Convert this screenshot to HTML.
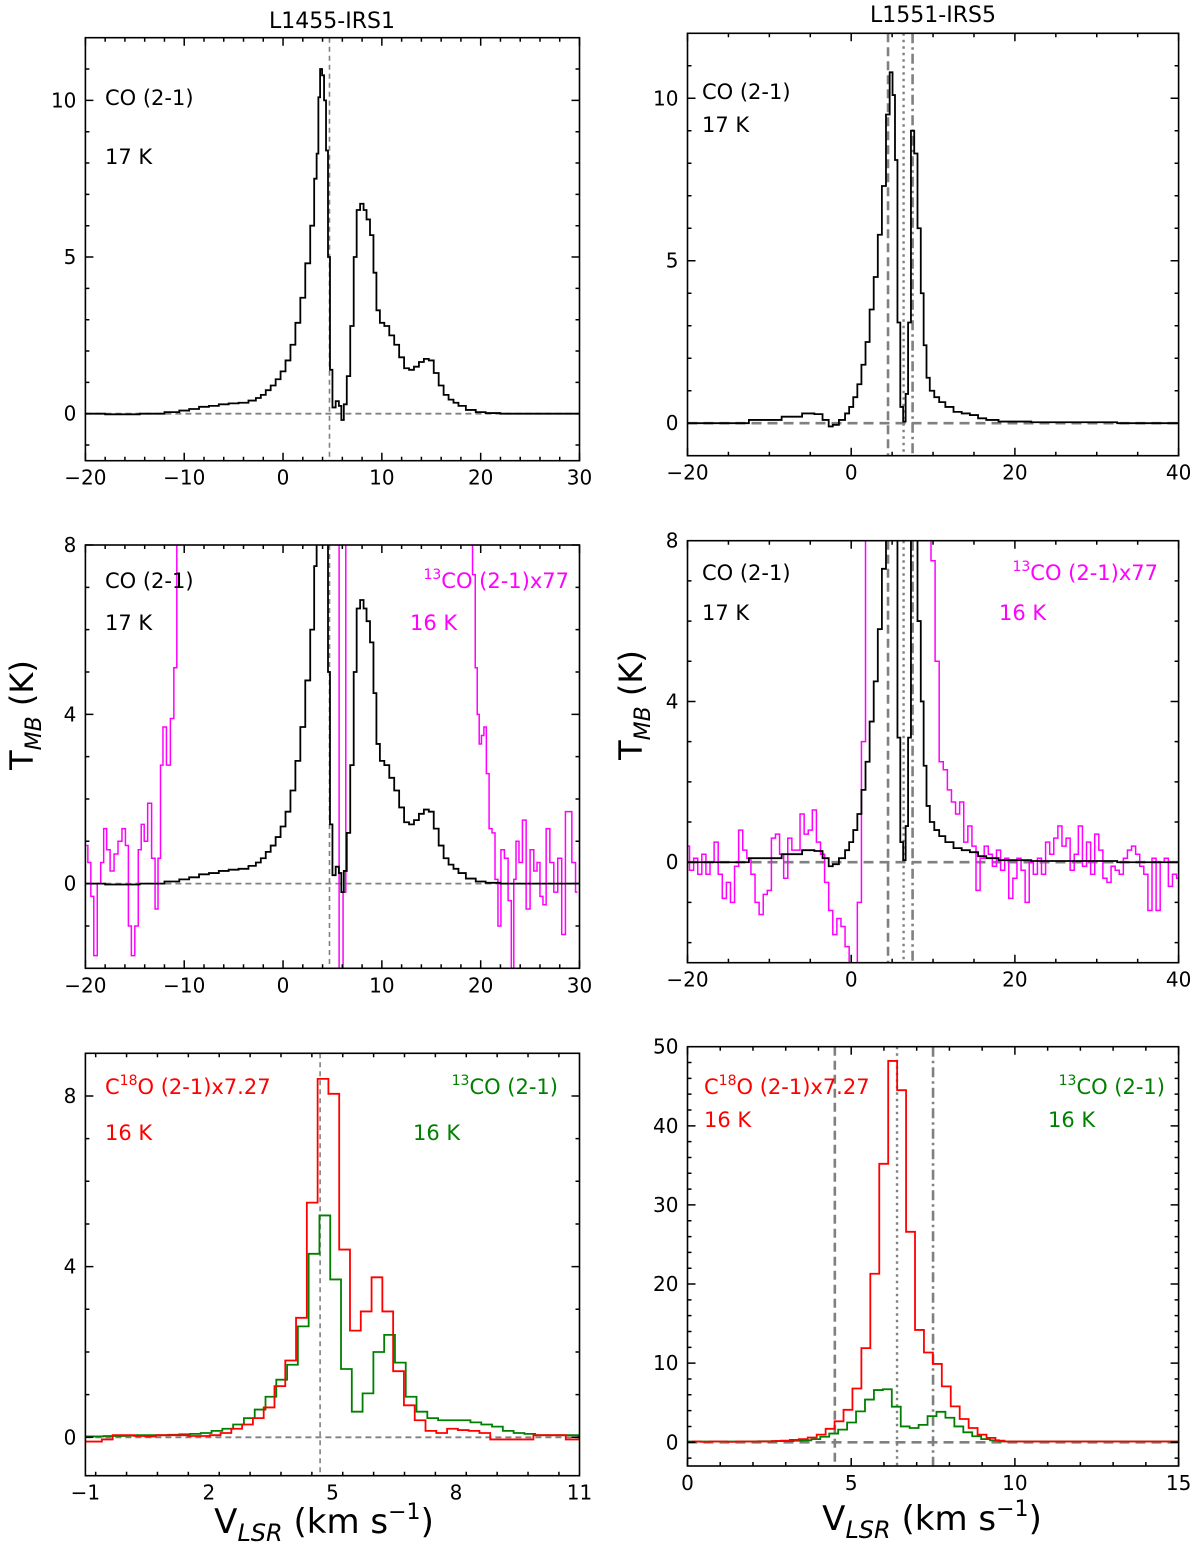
<!DOCTYPE html>
<html><head><meta charset="utf-8">
<style>
html,body{margin:0;padding:0;background:#fff;}
svg{display:block;font-family:"DejaVu Sans","Liberation Sans",sans-serif;}
</style></head>
<body>
<svg id="fig" width="1200" height="1546" viewBox="0 0 1200 1546" xmlns="http://www.w3.org/2000/svg">
<text x="332" y="28" font-size="22" text-anchor="middle">L1455-IRS1</text>
<text x="933" y="22" font-size="22" text-anchor="middle">L1551-IRS5</text>
<text transform="translate(33,715) rotate(-90)" font-size="32" text-anchor="middle">T<tspan font-size="22" font-style="italic" dy="8">MB</tspan><tspan dy="-8"> (K)</tspan></text>
<text transform="translate(642,705) rotate(-90)" font-size="32" text-anchor="middle">T<tspan font-size="22" font-style="italic" dy="8">MB</tspan><tspan dy="-8"> (K)</tspan></text>
<text x="324" y="1533" font-size="34" text-anchor="middle">V<tspan font-size="24" font-style="italic" dy="8">LSR</tspan><tspan dy="-8"> (km s</tspan><tspan font-size="22" dy="-14">−1</tspan><tspan dy="14">)</tspan></text>
<text x="932" y="1530" font-size="34" text-anchor="middle">V<tspan font-size="24" font-style="italic" dy="8">LSR</tspan><tspan dy="-8"> (km s</tspan><tspan font-size="22" dy="-14">−1</tspan><tspan dy="14">)</tspan></text>
</svg>
<script>
// ---------- data ----------
// L1455 CO(2-1)
const l1455CoV = [-20,-16,-13,-11,-10,-9,-8,-7,-6,-5,-4,-3,-2.5,-2,-1.5,-1,-0.5,0,0.5,1,1.5,2,2.5,3,3.3,3.5,3.65,3.85,4.05,4.25,4.45,4.65,4.85,5.15,5.5,5.8,6.0,6.3,6.6,7.0,7.3,7.6,8.0,8.3,8.6,9.0,9.3,9.6,10.0,10.5,11.0,11.5,12.0,12.5,13.0,13.5,14.0,14.5,15.0,15.5,16.0,16.5,17.0,17.5,18,19,20,21,23,26,30];
const l1455CoT = [0,-0.02,0,0.05,0.1,0.15,0.22,0.25,0.3,0.33,0.35,0.42,0.5,0.6,0.75,0.9,1.1,1.35,1.7,2.2,2.9,3.7,4.8,6.0,7.5,8.3,10.1,11.0,10.8,10.0,8.4,5.0,1.4,0.2,0.4,0.25,-0.2,0.3,1.2,2.8,5.0,6.5,6.7,6.5,6.2,5.7,4.5,3.3,2.9,2.8,2.5,2.2,1.8,1.45,1.4,1.5,1.65,1.75,1.7,1.3,0.9,0.6,0.45,0.35,0.25,0.12,0.05,0.02,0,0,0];
// L1455 13CO(2-1)x77
const l1455MagV = [-19.9,-19.6,-19.3,-19.0,-18.6,-18.3,-18.0,-17.7,-17.3,-16.9,-16.5,-16.1,-15.8,-15.5,-15.2,-14.8,-14.5,-14.2,-13.9,-13.5,-13.1,-12.8,-12.5,-12.3,-12.0,-11.6,-11.2,-10.9,-10.6,-10.2,-9.9,-9.4,-8.0,-4.0,0.0,4.0,5.4,5.95,6.2,6.5,8.0,12.0,16.0,19.0,19.35,19.55,19.75,19.95,20.2,20.45,20.7,21.0,21.3,21.6,21.9,22.2,22.6,22.95,23.25,23.45,23.7,24.05,24.4,24.8,25.2,25.55,25.85,26.15,26.45,26.8,27.2,27.6,28.0,28.4,28.75,29.05,29.4,29.8];
const l1455MagT = [0.9,0.5,-0.3,-1.7,0,0.5,1.3,0.8,0.3,0.7,1.0,1.3,0.9,-1.0,-1.7,-1.0,0.8,1.4,1.0,1.9,0.6,-0.6,0.6,2.8,3.7,2.8,3.9,5.1,9,9,9,9,9,9,9,9,9,-3,-0.2,9,9,9,9,9,7.3,5.1,4.0,3.3,3.5,3.7,2.6,1.3,1.2,0.1,-1.0,0.8,0.6,-0.4,-3,0.1,1.0,0.5,1.5,-0.6,0.8,0.3,0.5,-0.3,-0.5,1.3,0.5,-0.2,0.6,-1.2,1.7,1.7,0.5,-0.2];
// L1551 CO(2-1)
const l1551CoV = [-20,-15,-10,-7,-5,-4,-3,-2.5,-2,-1,-0.5,0,0.5,1,1.5,2,2.5,3,3.5,4,4.5,4.9,5.2,5.5,5.8,6.2,6.5,6.8,7.1,7.5,7.9,8.3,8.7,9.0,9.4,9.8,10.5,11,12,13,14,15,16,17,19,25,40];
const l1551CoT = [0,0,0.1,0.2,0.3,0.28,0.1,-0.1,-0.05,0.1,0.3,0.5,0.8,1.2,1.8,2.5,3.5,4.5,5.8,7.3,9.5,10.8,10.1,8.1,3.1,0.5,0.05,0.9,3.1,9.0,8.3,6.0,4.0,2.4,1.4,1.0,0.8,0.65,0.5,0.35,0.3,0.25,0.15,0.1,0.05,0.03,0];
// L1551 13CO(2-1)x77, channels from -20 step 0.5
const l1551MagStart = -20;
const l1551MagStep = 0.5;
const l1551MagT = [0.4,-0.2,0.1,-0.3,0.2,-0.3,0,0.5,-0.3,-0.9,-0.5,-1.0,-0.1,0.8,0.3,0.1,-0.3,-1.0,-1.3,-0.8,-0.7,0.6,0.7,0.2,-0.4,0.6,0.3,0.3,1.2,0.7,0.8,1.3,0.5,0.2,-0.5,-1.2,-1.8,-1.4,-1.6,-2.1,-2.5,-3,-1.0,3.0,8.5,9,9,9,9,9,9,9,9,9,9,9,9,9,9,9,7.5,5.0,2.5,2.3,1.8,1.5,1.2,1.5,0.5,0.9,0.4,-0.7,0.1,0.4,0.2,-0.1,0.3,-0.2,0.1,-0.9,-0.4,0.1,-0.2,-1.0,0.0,-0.3,0.1,-0.3,0.5,0.2,0.6,0.9,0.4,0.6,-0.2,0.2,0.9,-0.1,0.5,-0.3,0.7,0.3,-0.4,-0.5,-0.1,-0.2,-0.3,0.1,0.3,0.4,0.2,-0.1,-0.3,-1.2,0.1,-1.2,0.0,0.1,-0.6,-0.3,-0.4];
// L1455 C18O x7.27 and 13CO (channel grid)
const l1455C18Start = -1.124;
const l1455C18Step = 0.262;
const l1455C18T = [-0.1,-0.1,-0.05,0.05,0.05,0.03,0.02,0.05,0.05,0.05,0.03,0.03,0.05,0.1,0.2,0.3,0.45,0.7,1.2,1.8,2.8,5.5,8.4,8.05,4.4,2.5,2.95,3.75,2.95,1.55,0.75,0.4,0.15,0.1,0.2,0.17,0.15,0.1,-0.05,-0.05,-0.05,-0.05,0.05,0.05,0.05,-0.05,-0.05];
const l1455G13Start = -1.08;
const l1455G13Step = 0.262;
const l1455G13T = [0.02,0.02,0.03,0.03,0.04,0.05,0.05,0.05,0.06,0.07,0.08,0.1,0.15,0.2,0.3,0.45,0.65,0.95,1.35,1.7,2.6,4.3,5.2,3.7,1.6,0.6,1.03,2.0,2.4,1.75,0.95,0.6,0.45,0.4,0.4,0.4,0.35,0.3,0.25,0.15,0.1,0.08,0.05,0.05,0.05,0.05,0.03];
// L1551 C18O x7.27 and 13CO
const l1551C18Start = 0.124;
const l1551C18Step = 0.273;
const l1551C18T = [0.1,0.05,0.1,0.1,0.05,0.1,0.1,0.1,0.1,0.15,0.2,0.3,0.4,0.6,0.97,1.7,2.65,4.1,6.8,11.9,21.3,35.2,48.2,44.5,26.6,14.2,11.35,9.9,7.06,4.54,2.94,1.8,0.97,0.55,0.2,0.1,0.1,0.1,0.1,0.1,0.1,0.1,0.1,0.1,0.1,0.1,0.1,0.1,0.1,0.1,0.1,0.1,0.1,0.1,0.1];
const l1551G13Start = -0.039;
const l1551G13Step = 0.273;
const l1551G13T = [0.1,0.1,0.1,0.1,0.1,0.1,0.1,0.1,0.12,0.12,0.15,0.15,0.2,0.25,0.4,0.7,1.1,1.6,2.5,3.9,5.4,6.6,6.7,4.5,2.0,1.8,2.2,3.3,3.85,3.1,2.0,1.26,0.76,0.4,0.25,0.1,0.1,0.1,0.1,0.1,0.1,0.1,0.1,0.1,0.1,0.1,0.1,0.1,0.1,0.1,0.1,0.1,0.1,0.1,0.1,0.1];
// tick labels
const ticksL12X = [-20,-10,0,10,20,30];
const ticksR12X = [-20,0,20,40];
const ticksL1Y = [0,5,10];
const ticksR1Y = [0,5,10];
const ticksL2Y = [0,4,8];
const ticksR2Y = [0,4,8];
const ticksL3X = [-1,2,5,8,11];
const ticksL3Y = [0,4,8];
const ticksR3X = [0,5,10,15];
const ticksR3Y = [0,10,20,30,40,50];

// ---------- rendering ----------
const NS = 'http://www.w3.org/2000/svg';
const svg = document.getElementById('fig');
function mk(tag, attrs, parent){
  const e = document.createElementNS(NS, tag);
  for (const k in attrs) e.setAttribute(k, attrs[k]);
  (parent||svg).appendChild(e);
  return e;
}
function fmt(v){ return v<0 ? '\u2212'+Math.abs(v) : String(v); }
let clipId = 0;
function panel(o){
  const g = mk('g', {});
  
  
  const sx = v => o.x0 + (v - o.xr[0]) / (o.xr[1]-o.xr[0]) * (o.x1-o.x0);
  const sy = v => o.y1 - (v - o.yr[0]) / (o.yr[1]-o.yr[0]) * (o.y1-o.y0);
  const id = 'c'+(clipId++);
  const cp = mk('clipPath', {id:id}, g);
  mk('rect', {x:o.x0, y:o.y0, width:o.x1-o.x0, height:o.y1-o.y0}, cp);
  const plot = mk('g', {'clip-path':'url(#'+id+')'}, g);
  const zl = mk('line', {x1:o.x0, x2:o.x1, y1:sy(0), y2:sy(0), stroke:'#808080', 'stroke-width':o.zw, 'stroke-dasharray':o.zd}, plot);
  
  
  o.vlines.forEach(vl => {
    const l = mk('line', {x1:sx(vl.v), x2:sx(vl.v), y1:o.y0, y2:o.y1, stroke:'#808080', 'stroke-width':vl.w, 'stroke-dasharray':vl.d}, plot);
    
    
  });
  o.series.forEach(s => {
    let vs = s.v, ts = s.t;
    if (!vs) { vs = ts.map((_, i) => s.start + s.step*(i+0.5)); }
    let d = '';
    for (let i=0;i<vs.length;i++){
      const a = i===0 ? (s.step? vs[0]-s.step/2 : vs[0]) : (vs[i-1]+vs[i])/2;
      const b = i===vs.length-1 ? (s.step? vs[i]+s.step/2 : vs[i]) : (vs[i]+vs[i+1])/2;
      const y = sy(ts[i]);
      d += (i===0 ? 'M'+sx(a).toFixed(2)+','+y.toFixed(2) : 'L'+sx(a).toFixed(2)+','+y.toFixed(2)) + 'L'+sx(b).toFixed(2)+','+y.toFixed(2);
    }
    const p = mk('path', {d:d, fill:'none', stroke:s.color, 'stroke-width':s.w||1.8, 'stroke-linejoin':'miter'}, plot);
    
    
  });
  const fr = mk('rect', {x:o.x0, y:o.y0, width:o.x1-o.x0, height:o.y1-o.y0, fill:'none', stroke:'#000', 'stroke-width':1.6}, g);
  
  
  let td = '';
  const eps = 1e-6;
  for (let v = Math.ceil(o.xr[0]/o.xmin - eps)*o.xmin; v <= o.xr[1]+eps; v += o.xmin){
    const isMaj = o.xt.some(t => Math.abs(t-v)<1e-4);
    const L = isMaj ? 8 : 4, X = sx(v);
    td += 'M'+X+','+o.y1+'v'+(-L)+'M'+X+','+o.y0+'v'+L;
  }
  for (let v = Math.ceil(o.yr[0]/o.ymin - eps)*o.ymin; v <= o.yr[1]+eps; v += o.ymin){
    const isMaj = o.yt.some(t => Math.abs(t-v)<1e-4);
    const L = isMaj ? 8 : 4, Y = sy(v);
    td += 'M'+o.x0+','+Y+'h'+L+'M'+o.x1+','+Y+'h'+(-L);
  }
  mk('path', {d:td, stroke:'#000', 'stroke-width':1.5, fill:'none'}, g);
  o.xt.forEach(t => {
    const tx = mk('text', {x:sx(t), y:o.y1+24, 'font-size':20, 'text-anchor':'middle'}, g);
    tx.textContent = fmt(t);
    
    
  });
  o.yt.forEach(t => {
    const ty = mk('text', {x:o.x0-9, y:sy(t)+7, 'font-size':20, 'text-anchor':'end'}, g);
    ty.textContent = fmt(t);
    
    
  });
  o.labels.forEach(lb => {
    const t = mk('text', {x:lb.x, y:lb.y, 'font-size':21, fill:lb.c, 'text-anchor':lb.a||'start'}, g);
    t.innerHTML = lb.h;
    
    
  });
}
const LX0=85.4, LX1=579.5, RX0=687.5, RX1=1178.6;
const SUP13 = '<tspan font-size="14" dy="-9">13</tspan><tspan dy="9">CO (2-1)</tspan>';
const leftV = [{v:4.7, w:1.6, d:'5,4'}];
const rightV = [{v:4.5, w:2.6, d:'9,5'},{v:6.4, w:2.4, d:'2.5,4'},{v:7.5, w:2.6, d:'10,4,2.5,4'}];

panel({name:'panel-l1455-co', x0:LX0,x1:LX1,y0:37.7,y1:460.7, xr:[-20,30], yr:[-1.5,12], xt:ticksL12X, xmin:2, yt:ticksL1Y, ymin:1, zw:1.8, zd:'6,4', vlines:leftV,
  series:[{name:'co-spectrum', v:l1455CoV, t:l1455CoT, color:'#000'}],
  labels:[{x:105,y:105,c:'#000',h:'CO (2-1)',n:'co-label'},{x:105,y:164,c:'#000',h:'17 K',n:'co-temperature'}]});
panel({name:'panel-l1551-co', x0:RX0,x1:RX1,y0:33.3,y1:455.7, xr:[-20,40], yr:[-1,12], xt:ticksR12X, xmin:5, yt:ticksR1Y, ymin:1, zw:2.6, zd:'10,6', vlines:rightV,
  series:[{name:'co-spectrum', v:l1551CoV, t:l1551CoT, color:'#000'}],
  labels:[{x:702,y:99,c:'#000',h:'CO (2-1)',n:'co-label'},{x:702,y:132,c:'#000',h:'17 K',n:'co-temperature'}]});
panel({name:'panel-l1455-co-13co', x0:LX0,x1:LX1,y0:545,y1:968.3, xr:[-20,30], yr:[-2,8], xt:ticksL12X, xmin:2, yt:ticksL2Y, ymin:1, zw:1.8, zd:'6,4', vlines:leftV,
  series:[{name:'13co-x77-spectrum', v:l1455MagV, t:l1455MagT, color:'#ff00ff', w:1.5},{name:'co-spectrum', v:l1455CoV, t:l1455CoT, color:'#000'}],
  labels:[{x:105,y:588,c:'#000',h:'CO (2-1)',n:'co-label'},{x:105,y:630,c:'#000',h:'17 K',n:'co-temperature'},
          {x:569,y:588,c:'#ff00ff',a:'end',h:SUP13+'x77',n:'13co-label'},{x:410,y:630,c:'#ff00ff',h:'16 K',n:'13co-temperature'}]});
panel({name:'panel-l1551-co-13co', x0:RX0,x1:RX1,y0:540.7,y1:962.7, xr:[-20,40], yr:[-2.5,8], xt:ticksR12X, xmin:5, yt:ticksR2Y, ymin:1, zw:2.6, zd:'10,6', vlines:rightV,
  series:[{name:'13co-x77-spectrum', start:l1551MagStart-l1551MagStep/2, step:l1551MagStep, t:l1551MagT, color:'#ff00ff', w:1.5},{name:'co-spectrum', v:l1551CoV, t:l1551CoT, color:'#000'}],
  labels:[{x:702,y:580,c:'#000',h:'CO (2-1)',n:'co-label'},{x:702,y:620,c:'#000',h:'17 K',n:'co-temperature'},
          {x:1158,y:580,c:'#ff00ff',a:'end',h:SUP13+'x77',n:'13co-label'},{x:999,y:620,c:'#ff00ff',h:'16 K',n:'13co-temperature'}]});
const SUP18 = 'C<tspan font-size="14" dy="-9">18</tspan><tspan dy="9">O (2-1)x7.27</tspan>';
panel({name:'panel-l1455-c18o-13co', x0:LX0,x1:LX1,y0:1053.3,y1:1475.7, xr:[-1,11], yr:[-0.9,9], xt:ticksL3X, xmin:0.75, yt:ticksL3Y, ymin:1, zw:1.8, zd:'6,4', vlines:leftV,
  series:[{name:'13co-spectrum', start:l1455G13Start, step:l1455G13Step, t:l1455G13T, color:'#008000'},{name:'c18o-spectrum', start:l1455C18Start, step:l1455C18Step, t:l1455C18T, color:'#ff0000'}],
  labels:[{x:105,y:1094,c:'#ff0000',h:SUP18,n:'c18o-label'},{x:105,y:1140,c:'#ff0000',h:'16 K',n:'c18o-temperature'},
          {x:558,y:1094,c:'#008000',a:'end',h:SUP13,n:'13co-label'},{x:413,y:1140,c:'#008000',h:'16 K',n:'13co-temperature'}]});
panel({name:'panel-l1551-c18o-13co', x0:RX0,x1:RX1,y0:1046.7,y1:1466, xr:[0,15], yr:[-3,50], xt:ticksR3X, xmin:1, yt:ticksR3Y, ymin:2, zw:2.6, zd:'10,6', vlines:rightV,
  series:[{name:'13co-spectrum', start:l1551G13Start, step:l1551G13Step, t:l1551G13T, color:'#008000'},{name:'c18o-spectrum', start:l1551C18Start, step:l1551C18Step, t:l1551C18T, color:'#ff0000'}],
  labels:[{x:704,y:1094,c:'#ff0000',h:SUP18,n:'c18o-label'},{x:704,y:1127,c:'#ff0000',h:'16 K',n:'c18o-temperature'},
          {x:1165,y:1094,c:'#008000',a:'end',h:SUP13,n:'13co-label'},{x:1048,y:1127,c:'#008000',h:'16 K',n:'13co-temperature'}]});
</script>
</body></html>
